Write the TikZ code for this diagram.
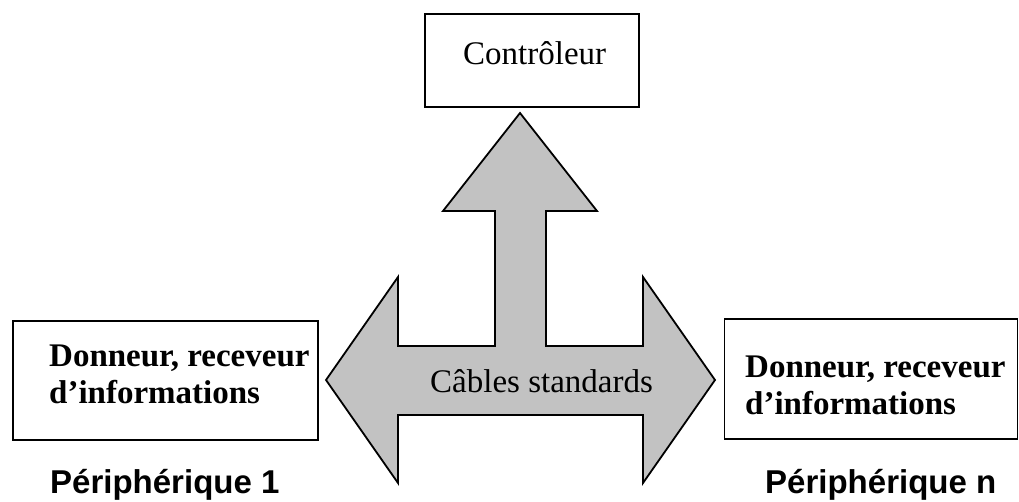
\documentclass[tikz,border=0pt]{standalone}
\usepackage{fontspec}
\setmainfont{Liberation Serif}
\newfontfamily\labelfont{Liberation Sans}
\begin{document}
\begin{tikzpicture}[x=1pt,y=-1pt,
  unitbox/.style={draw=black, line width=1.8pt, rectangle, inner sep=0pt, anchor=north west},
  boxtext/.style={anchor=base west, inner sep=0pt, font=\fontsize{33}{37}\selectfont\bfseries},
  plaintext/.style={anchor=base west, inner sep=0pt, font=\fontsize{33}{40}\selectfont},
  devlabel/.style={anchor=base west, inner sep=0pt, font=\labelfont\fontsize{33}{40}\selectfont\bfseries},
  busarrow/.style={draw=black, line width=1.8pt, fill=black!24, line join=miter}]
\useasboundingbox (0,0) rectangle (1019,502);

% Controller
\node[unitbox, minimum width=214pt, minimum height=93pt] (ctrl) at (424,13) {};
\node[plaintext] (ctrltext) at (463,65) {Contrôleur};

% Three-way bus arrow
\coordinate (tipU) at (520,113);
\coordinate (tipL) at (326,380);
\coordinate (tipR) at (715,380);
\draw[busarrow] (tipU) -- (597,211) -- (546,211) -- (546,346) -- (643,346)
  -- (643,277) -- (tipR) -- (643,483) -- (643,415) -- (398,415) -- (398,483)
  -- (tipL) -- (398,277) -- (398,346) -- (495,346) -- (495,211) -- (443,211) -- cycle;
\node[plaintext] (bus) at (430,392) {Câbles standards};

% Peripheral 1
\node[unitbox, minimum width=305pt, minimum height=119pt] (dev1) at (12,320) {};
\node[boxtext] (dev1a) at (49,366) {Donneur, receveur};
\node[boxtext] (dev1b) at (49,403) {d'informations};
\node[devlabel] (dev1name) at (50,493) {Périphérique 1};

% Peripheral n
\node[unitbox, minimum width=293pt, minimum height=120pt] (devn) at (723.5,318) {};
\node[boxtext] (devna) at (745,377) {Donneur, receveur};
\node[boxtext] (devnb) at (745,414) {d'informations};
\node[devlabel] (devnname) at (765,493) {Périphérique n};
\end{tikzpicture}
\end{document}
